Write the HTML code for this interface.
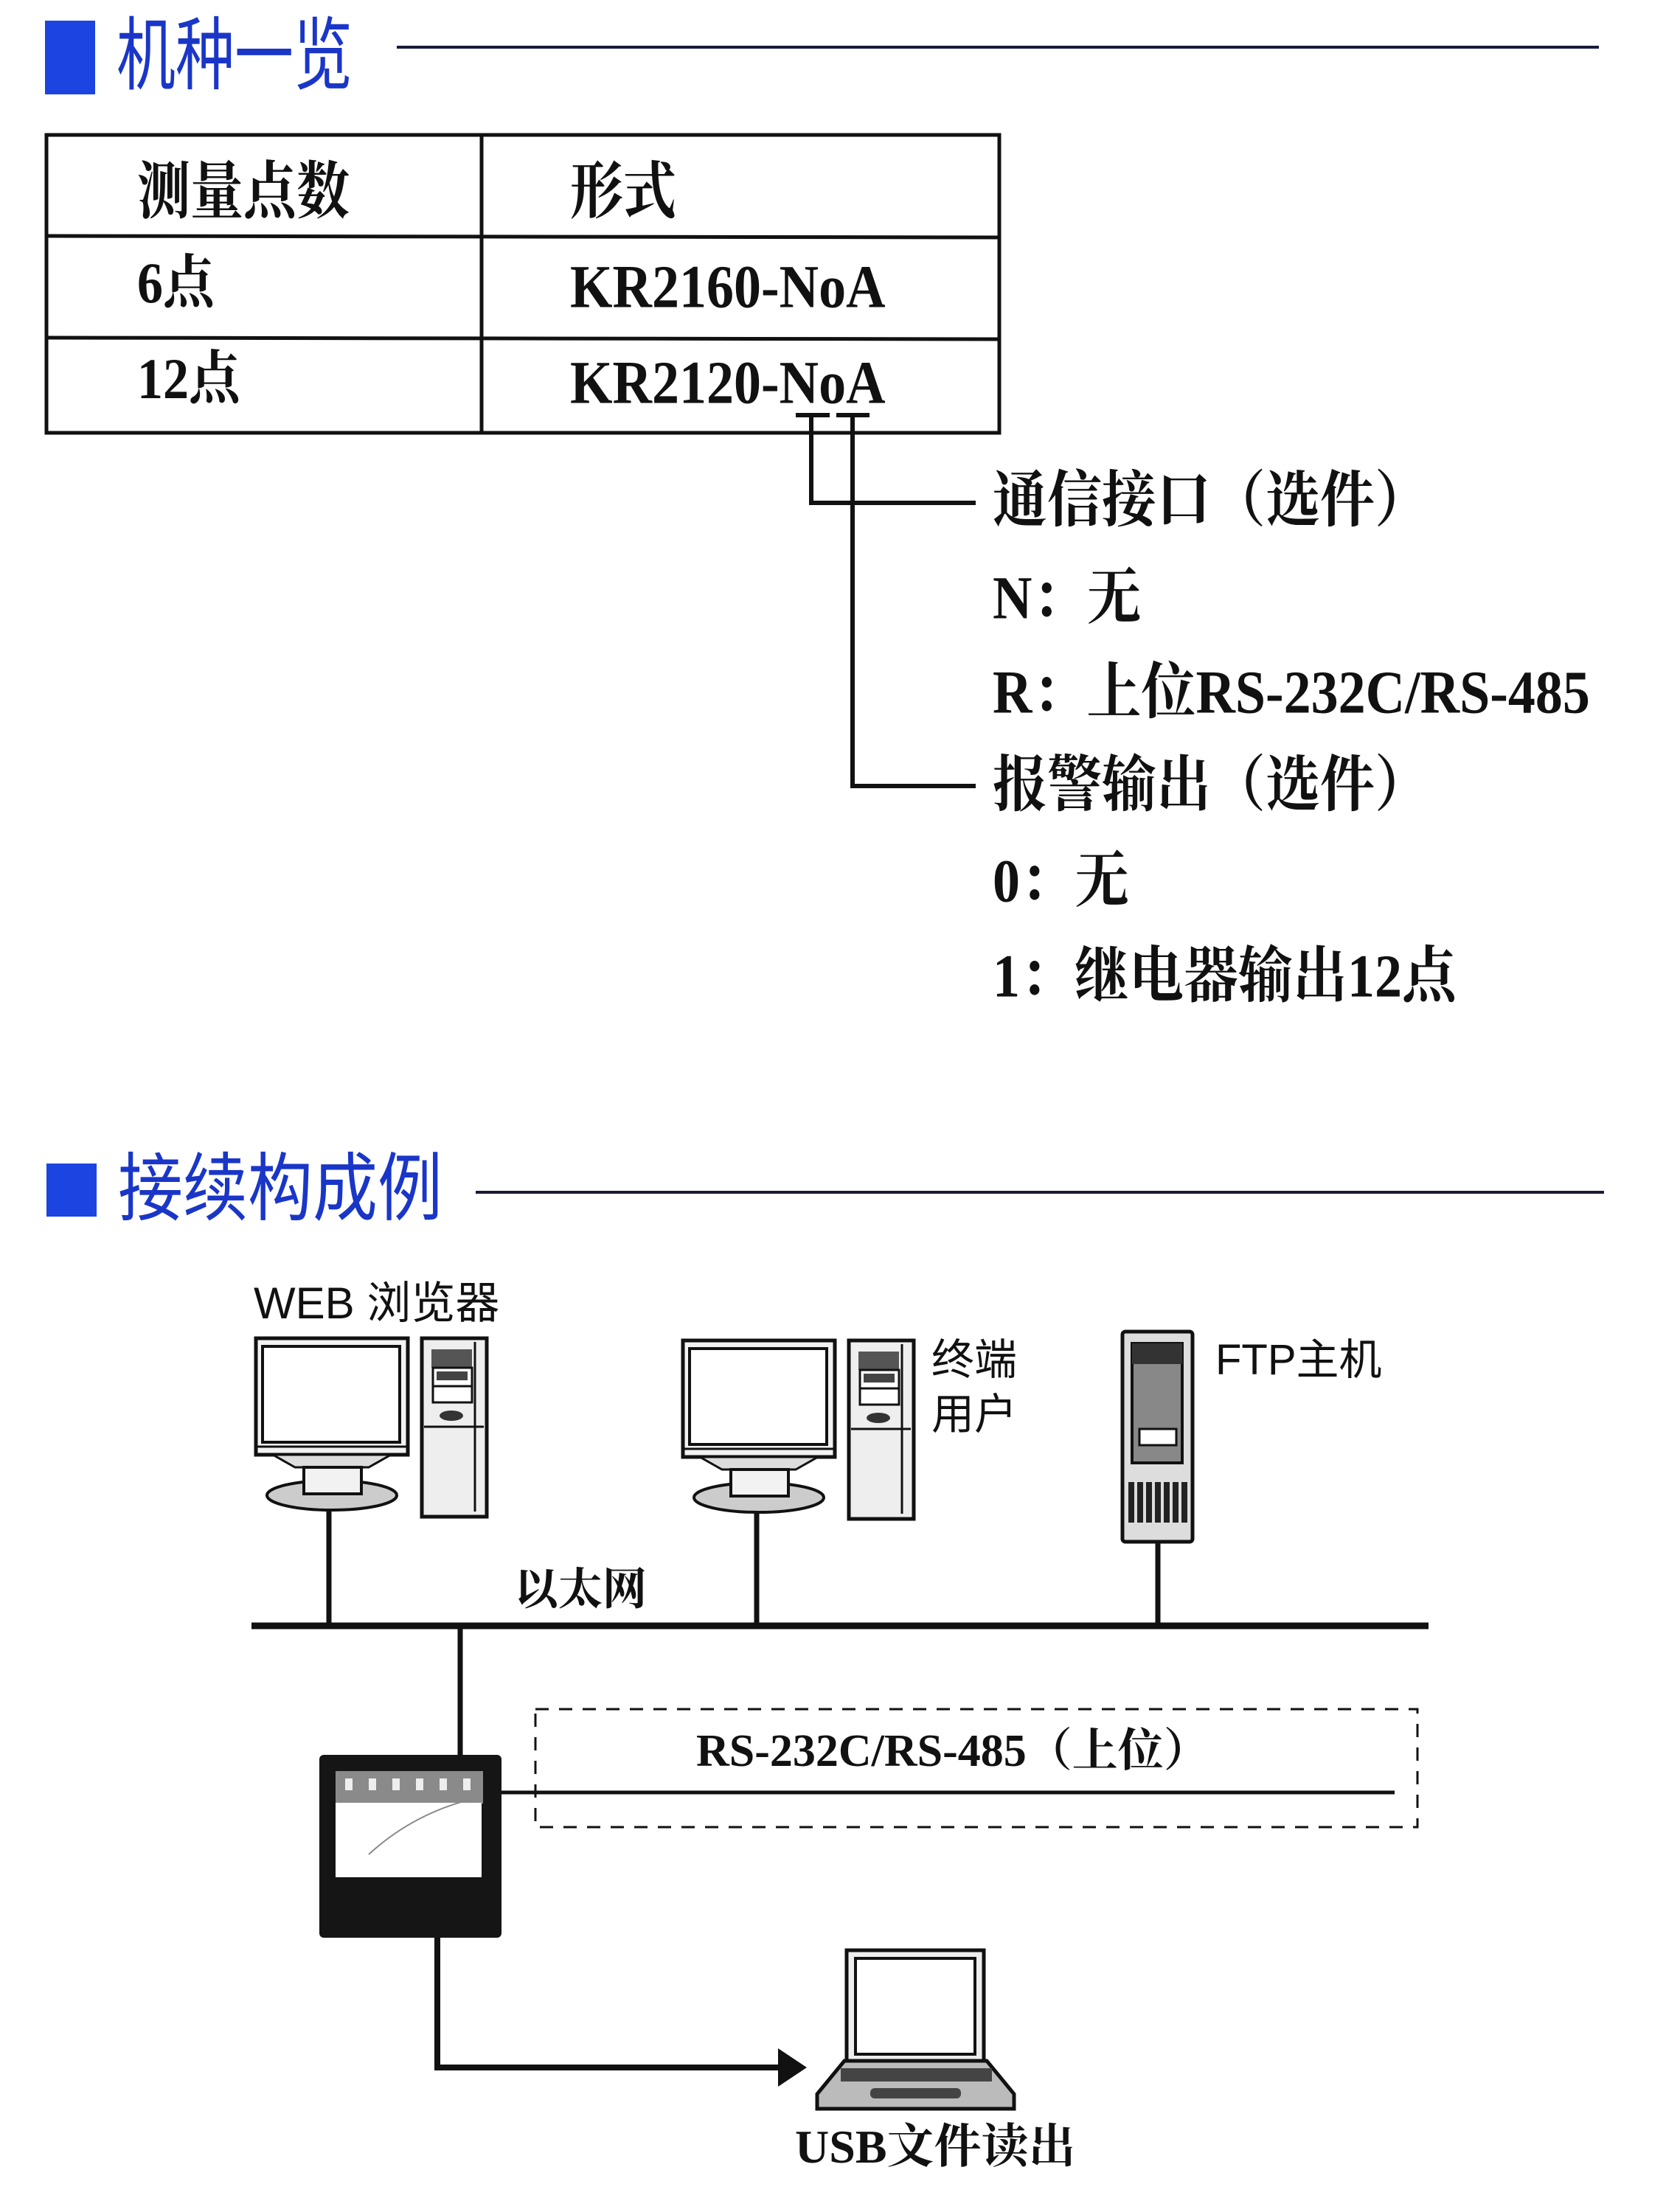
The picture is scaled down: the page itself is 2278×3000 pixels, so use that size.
<!DOCTYPE html>
<html><head><meta charset="utf-8"><style>
body{margin:0;background:#fff;width:2278px;height:3000px;position:relative;overflow:hidden;font-family:"Liberation Serif","Noto Serif CJK SC",serif;}
.t{position:absolute;white-space:nowrap;line-height:1;color:#111;}
.b{font-weight:bold;}
.blue{color:#1a36c8;font-family:"Liberation Sans","Noto Sans CJK SC",sans-serif;}
.sq{position:absolute;background:#1b44e0;}
.s{font-family:"Liberation Sans","Noto Sans CJK SC",sans-serif;}
.tall{transform:scaleY(1.12);transform-origin:top left;}
</style></head><body>
<div class="sq" style="left:61px;top:28px;width:68px;height:100px;"></div>
<div class="t blue" style="left:158px;top:22px;font-size:80px;transform:scaleY(1.35);transform-origin:top left;">机种一览</div>
<div style="position:absolute;left:538px;top:62px;width:1630px;height:4px;background:#1a1a3a;"></div>

<svg style="position:absolute;left:0;top:0" width="2278" height="3000">
<g stroke="#111" stroke-width="5" fill="none">
<rect x="63" y="183" width="1292" height="404"/>
<line x1="653" y1="183" x2="653" y2="587"/>
<line x1="63" y1="320" x2="1355" y2="322"/>
<line x1="63" y1="458" x2="1355" y2="460"/>
<line x1="1079" y1="563" x2="1125" y2="563" stroke-width="6"/>
<line x1="1134" y1="563" x2="1179" y2="563" stroke-width="6"/>
<polyline points="1100,563 1100,682 1323,682" stroke-width="6"/>
<polyline points="1156,563 1156,1066 1323,1066" stroke-width="6"/>
</g>
<g stroke="#111" fill="none">
<line x1="341" y1="2205" x2="1937" y2="2205" stroke-width="9"/>
<line x1="446" y1="2040" x2="446" y2="2205" stroke-width="7"/>
<line x1="1026" y1="2040" x2="1026" y2="2205" stroke-width="7"/>
<line x1="1570" y1="2092" x2="1570" y2="2205" stroke-width="7"/>
<line x1="624" y1="2205" x2="624" y2="2380" stroke-width="7"/>
<rect x="726" y="2318" width="1196" height="160" stroke-width="3" stroke-dasharray="18,14"/>
<line x1="680" y1="2431" x2="1891" y2="2431" stroke-width="5"/>
<polyline points="593,2628 593,2804 1060,2804" stroke-width="8"/>
</g>
<polygon points="1055,2778 1094,2804 1055,2830" fill="#111"/>
<rect x="433" y="2380" width="247" height="248" rx="6" fill="#151515"/>
<rect x="455" y="2402" width="200" height="44" fill="#8a8a8a"/>
<g fill="#eee"><rect x="468" y="2412" width="10" height="16"/><rect x="500" y="2412" width="10" height="16"/><rect x="532" y="2412" width="10" height="16"/><rect x="564" y="2412" width="10" height="16"/><rect x="596" y="2412" width="10" height="16"/><rect x="628" y="2412" width="10" height="16"/></g>
<rect x="455" y="2445" width="198" height="101" fill="#fff"/>
<path d="M500 2515 Q560 2460 640 2440" stroke="#888" stroke-width="2" fill="none"/>
<g id="pc">
<rect x="347" y="1815" width="206" height="158" fill="#f2f2f2" stroke="#111" stroke-width="5"/>
<rect x="356" y="1826" width="186" height="130" fill="#fff" stroke="#111" stroke-width="4"/>
<line x1="347" y1="1962" x2="553" y2="1962" stroke="#111" stroke-width="3"/>
<path d="M370 1973 L530 1973 L500 1990 L400 1990 Z" fill="#ddd" stroke="#111" stroke-width="3"/>
<ellipse cx="450" cy="2028" rx="88" ry="20" fill="#ccc" stroke="#111" stroke-width="4"/>
<rect x="412" y="1990" width="78" height="36" fill="#f2f2f2" stroke="#111" stroke-width="4"/>
<rect x="572" y="1815" width="88" height="242" fill="#eee" stroke="#111" stroke-width="5"/>
<rect x="585" y="1830" width="55" height="25" fill="#555"/>
<rect x="587" y="1855" width="53" height="25" fill="#fff" stroke="#111" stroke-width="3"/>
<rect x="592" y="1860" width="42" height="12" fill="#444"/>
<rect x="587" y="1880" width="53" height="22" fill="#fff" stroke="#111" stroke-width="3"/>
<ellipse cx="612" cy="1920" rx="16" ry="7" fill="#333"/>
<line x1="575" y1="1935" x2="656" y2="1935" stroke="#111" stroke-width="3"/>
<line x1="644" y1="1820" x2="644" y2="2050" stroke="#111" stroke-width="3"/>
</g>
<use href="#pc" x="579" y="3"/>
<rect x="1522" y="1806" width="95" height="285" rx="4" fill="#ddd" stroke="#111" stroke-width="5"/>
<rect x="1535" y="1822" width="68" height="162" fill="#888" stroke="#111" stroke-width="4"/>
<rect x="1535" y="1822" width="68" height="28" fill="#333"/>
<rect x="1545" y="1938" width="50" height="22" fill="#fff" stroke="#111" stroke-width="3"/>
<g fill="#222"><rect x="1530" y="2010" width="8" height="55"/><rect x="1542" y="2010" width="8" height="55"/><rect x="1554" y="2010" width="8" height="55"/><rect x="1566" y="2010" width="8" height="55"/><rect x="1578" y="2010" width="8" height="55"/><rect x="1590" y="2010" width="8" height="55"/><rect x="1602" y="2010" width="8" height="55"/></g>
<rect x="1148" y="2645" width="186" height="150" fill="#eee" stroke="#111" stroke-width="5"/>
<rect x="1160" y="2656" width="162" height="130" fill="#fff" stroke="#111" stroke-width="4"/>
<path d="M1145 2795 L1338 2795 L1375 2840 L1375 2860 L1108 2860 L1108 2840 Z" fill="#bbb" stroke="#111" stroke-width="5"/>
<rect x="1140" y="2805" width="205" height="18" fill="#444"/>
<rect x="1180" y="2832" width="123" height="14" rx="6" fill="#444"/>
</svg>

<div class="t" style="left:186px;top:210px;font-size:72px;transform:scaleY(1.18);transform-origin:top left;font-weight:bold;font-family:'Noto Serif CJK SC',serif;">测量点数</div>
<div class="t" style="left:773px;top:210px;font-size:72px;transform:scaleY(1.18);transform-origin:top left;font-weight:bold;font-family:'Noto Serif CJK SC',serif;">形式</div>
<div class="t b tall" style="left:186px;top:346px;font-size:70px;">6点</div>
<div class="t b tall" style="left:773px;top:348px;font-size:74px;">KR2160-NoA</div>
<div class="t b tall" style="left:186px;top:476px;font-size:70px;">12点</div>
<div class="t b tall" style="left:773px;top:478px;font-size:74px;">KR2120-NoA</div>

<div class="t b tall" style="left:1346px;top:638px;font-size:74px;">通信接口（选件）</div>
<div class="t b tall" style="left:1346px;top:770px;font-size:74px;">N：无</div>
<div class="t b tall" style="left:1346px;top:898px;font-size:74px;">R：上位RS-232C/RS-485</div>
<div class="t b tall" style="left:1346px;top:1024px;font-size:74px;">报警输出（选件）</div>
<div class="t b tall" style="left:1346px;top:1154px;font-size:74px;">0：无</div>
<div class="t b tall" style="left:1346px;top:1283px;font-size:74px;">1：继电器输出12点</div>

<div class="sq" style="left:63px;top:1578px;width:68px;height:72px;"></div>
<div class="t blue" style="left:160px;top:1562px;font-size:88px;transform:scaleY(1.15);transform-origin:top left;">接续构成例</div>
<div style="position:absolute;left:645px;top:1615px;width:1530px;height:4px;background:#1a1a3a;"></div>

<div class="t s" style="left:344px;top:1738px;font-size:60px;">WEB 浏览器</div>
<div class="t s" style="left:1263px;top:1816px;font-size:58px;">终端</div>
<div class="t s" style="left:1263px;top:1890px;font-size:58px;">用户</div>
<div class="t s" style="left:1648px;top:1816px;font-size:58px;">FTP主机</div>
<div class="t b" style="left:697px;top:2126px;font-size:60px;">以太网</div>
<div class="t b" style="left:944px;top:2344px;font-size:62px;">RS-232C/RS-485（上位）</div>
<div class="t b" style="left:1078px;top:2880px;font-size:64px;">USB文件读出</div>
</body></html>
